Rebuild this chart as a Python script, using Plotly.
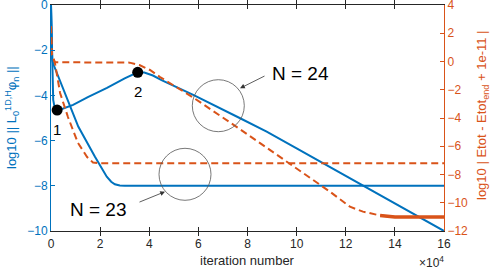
import plotly.graph_objects as go

# ---------------- data ----------------
x_tick_vals = [0, 20000, 40000, 60000, 80000, 100000, 120000, 140000, 160000]
x_tick_text = ["0", "2", "4", "6", "8", "10", "12", "14", "16"]
y_left_ticks = [0, -2, -4, -6, -8, -10]
y_right_ticks = [4, 2, 0, -2, -4, -6, -8, -10, -12]

# residual norm (left axis), N = 24
res24_x = [0, 500, 900, 1500, 2500, 5000, 9000, 15000, 22800, 30000, 35300, 38000,
           41500, 45000, 50000, 57900, 77000, 87800, 100000, 120000, 140000, 160000]
res24_y = [0, -2.43, -4.2, -4.55, -4.65, -4.58, -4.42, -4.08, -3.67, -3.25, -2.98, -2.99,
           -3.12, -3.32, -3.57, -3.98, -5.01, -5.6, -6.34, -7.56, -8.78, -10.0]

# residual norm (left axis), N = 23
res23_x = [0, 500, 900, 5700, 11100, 17900, 22700, 24500, 26000, 28000, 30000, 160000]
res23_y = [0, -2.43, -2.6, -3.9, -5.38, -6.71, -7.6, -7.82, -7.93, -7.99, -8.0, -8.0]

# energy error (right axis), N = 23
en23_x = [0, 300, 1600, 3700, 6900, 11000, 14700, 17100, 19100, 160000]
en23_y = [2.5, 0.5, -0.1, -2.23, -3.93, -5.77, -6.76, -7.15, -7.2, -7.2]

# energy error (right axis), N = 24
en24_x = [0, 300, 1600, 10000, 20000, 28000, 32000, 36000, 40300, 44400, 50000, 57900,
          77000, 106700, 113600, 121700, 127000, 134000, 140000, 160000]
en24_y = [2.5, 0.5, -0.05, -0.05, -0.05, -0.05, -0.08, -0.25, -0.6, -1.1, -1.7, -2.55,
          -4.8, -8.4, -9.22, -10.28, -10.63, -10.9, -11.0, -11.0]

# highlighted points on the N = 24 residual curve
pt_x = [2500, 35300]
pt_y = [-4.65, -2.98]
pt_labels = ["1", "2"]

BLUE = "#0072BD"
ORANGE = "#D95319"
FONT = "Liberation Sans"

fig = go.Figure()

fig.add_trace(go.Scatter(x=res24_x, y=res24_y, mode="lines",
                         line=dict(color=BLUE, width=2), yaxis="y", showlegend=False))
fig.add_trace(go.Scatter(x=res23_x, y=res23_y, mode="lines",
                         line=dict(color=BLUE, width=2), yaxis="y", showlegend=False))
fig.add_trace(go.Scatter(x=en23_x, y=en23_y, mode="lines",
                         line=dict(color=ORANGE, width=2, dash="7px,4px"),
                         yaxis="y2", showlegend=False))
fig.add_trace(go.Scatter(x=en24_x, y=en24_y, mode="lines",
                         line=dict(color=ORANGE, width=2, dash="7px,4px"),
                         yaxis="y2", showlegend=False))
# noisy plateau of the N = 24 energy curve drawn thicker
tail_x = [x for x in en24_x if x >= 134000]
tail_y = [y for x, y in zip(en24_x, en24_y) if x >= 134000]
fig.add_trace(go.Scatter(x=tail_x, y=tail_y, mode="lines",
                         line=dict(color=ORANGE, width=3.5), yaxis="y2", showlegend=False))

fig.add_trace(go.Scatter(x=pt_x, y=pt_y, mode="markers",
                         marker=dict(color="black", size=11), yaxis="y", showlegend=False))

annotations = []
for px, py, lab in zip(pt_x, pt_y, pt_labels):
    annotations.append(dict(x=px, y=py, xref="x", yref="y", text=lab, showarrow=False,
                            xanchor="center", yanchor="middle",
                            yshift=-19, font=dict(size=15, color="black", family=FONT)))

# circles
shapes = [
    dict(type="circle", xref="x", yref="y", x0=57528, x1=78697, y0=-5.606, y1=-3.305,
         line=dict(color="#555555", width=0.8)),
    dict(type="circle", xref="x", yref="y", x0=43969, x1=65140, y0=-8.642, y1=-6.341,
         line=dict(color="#555555", width=0.8)),
]

# arrows and N labels
annotations += [
    dict(x=76947, y=-3.686, xref="x", yref="y", ax=26, ay=-13, text="", showarrow=True,
         arrowhead=2, arrowsize=1.2, arrowwidth=0.8, arrowcolor="#333333"),
    dict(x=46412, y=-8.26, xref="x", yref="y", ax=-27, ay=11, text="", showarrow=True,
         arrowhead=2, arrowsize=1.2, arrowwidth=0.8, arrowcolor="#333333"),
    dict(x=101374, y=-3.009, xref="x", yref="y", text="N = 24", showarrow=False,
         xanchor="center", yanchor="middle",
         font=dict(size=19, color="black", family=FONT)),
    dict(x=19135, y=-9.07, xref="x", yref="y", text="N = 23", showarrow=False,
         xanchor="center", yanchor="middle",
         font=dict(size=19, color="black", family=FONT)),
]

W, H = 491, 269
ml, mr, mt, mb = 51, 47, 5, 38
pw, ph = W - ml - mr, H - mt - mb

def px2paper(px, py):
    return (px - ml) / pw, 1 - (py - mt) / ph

def paper_text(px, py, text, size, color, angle=0):
    x, y = px2paper(px, py)
    return dict(x=x, y=y, xref="paper", yref="paper", text=text, textangle=angle,
                showarrow=False, xanchor="center", yanchor="middle",
                font=dict(size=size, color=color, family=FONT))

annotations.append(paper_text(12, 118, "log10 || L<sub>0</sub><sup>1D,H</sup>φ<sub>n</sub> ||",
                              13, BLUE, -90))
annotations.append(paper_text(482, 115, "log10 | Etot - Etot<sub>end</sub> + 1e-11 |",
                              13, ORANGE, -90))
annotations.append(paper_text(247, 260, "iteration number", 13, "#262626"))
annotations.append(paper_text(431, 262, "×10<sup>4</sup>", 12, "#262626"))

axis_common = dict(ticks="inside", ticklen=4, showline=True, linewidth=1, showgrid=False,
                   zeroline=False, automargin=False, ticklabeloverflow="allow")

fig.update_layout(
    width=W, height=H,
    margin=dict(l=ml, r=mr, t=mt, b=mb, pad=0, autoexpand=False),
    paper_bgcolor="white", plot_bgcolor="white",
    font=dict(family=FONT, size=12, color="#262626"),
    showlegend=False,
    shapes=shapes,
    annotations=annotations,
    xaxis=dict(range=[0, 160000], tickvals=x_tick_vals, ticktext=x_tick_text,
               tickcolor="#262626", linecolor="#262626", mirror="allticks",
               tickfont=dict(size=12, color="#262626"), ticklabelstandoff=2, **axis_common),
    yaxis=dict(range=[-10, 0], tickvals=y_left_ticks, tickcolor=BLUE, linecolor=BLUE,
               tickfont=dict(size=12, color=BLUE), **axis_common),
    yaxis2=dict(range=[-12, 4], tickvals=y_right_ticks, overlaying="y", side="right",
                tickcolor=ORANGE, linecolor=ORANGE,
                tickfont=dict(size=12, color=ORANGE), **axis_common),
)

fig.write_html("out.html", config={"displayModeBar": False},
               post_script="document.body.style.margin='0px';document.body.style.overflow='hidden';")
